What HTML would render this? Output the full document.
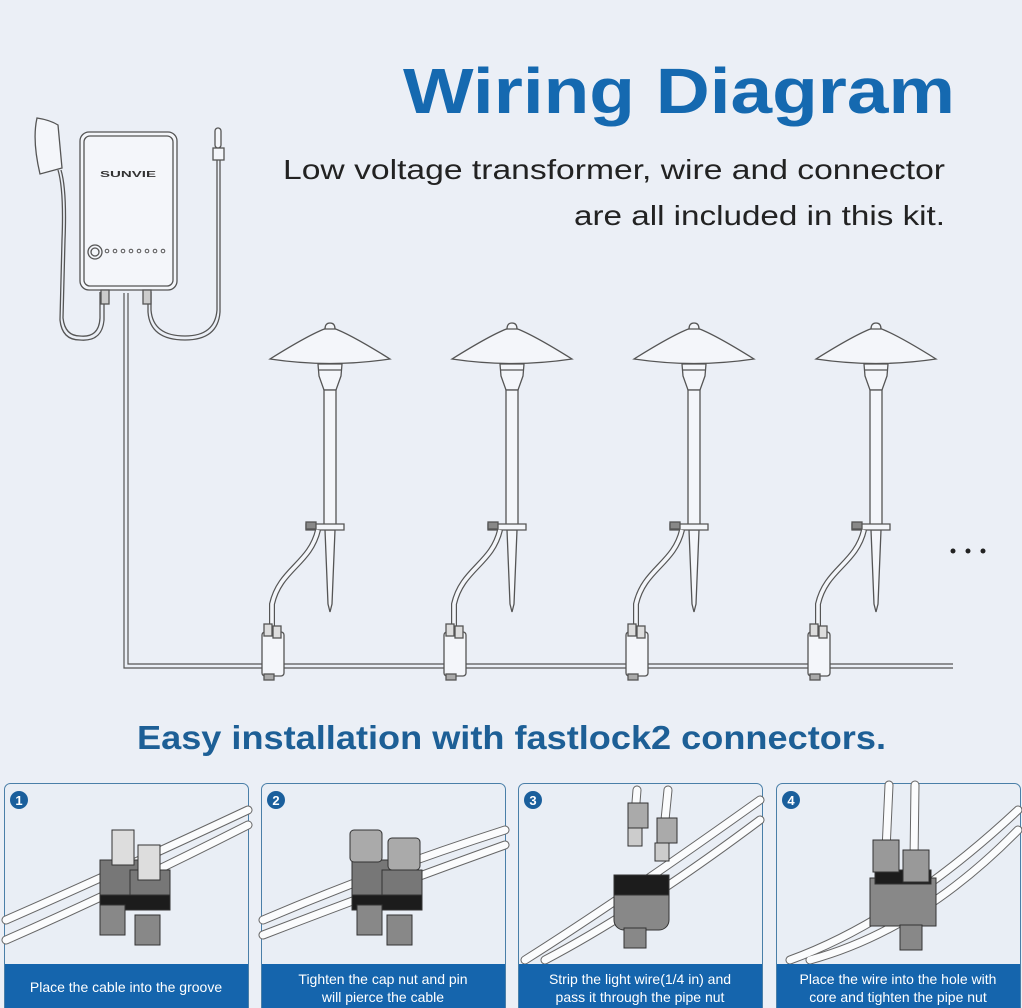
<!DOCTYPE html>
<html><head><meta charset="utf-8"><style>
html,body{margin:0;padding:0;background:#ebeff6;}
svg{display:block;}
text{font-family:"Liberation Sans",sans-serif;}
</style></head><body>
<svg width="1022" height="1008" viewBox="0 0 1022 1008" xmlns="http://www.w3.org/2000/svg">
<rect width="1022" height="1008" fill="#ebeff6"/>
<defs>
<g id="lamp" fill="#f4f6fa" stroke="#555" stroke-width="1.3">
  <path d="M-60,35 Q-20,10 -3,4 L3,4 Q20,10 60,35 Q0,44 -60,35 Z"/>
  <path d="M-5,5 Q-5,-1 0,-1 Q5,-1 5,5 Z"/>
  <path d="M-12,40 L12,40 L11,52 L6,66 L-6,66 L-11,52 Z"/>
  <line x1="-12" y1="46" x2="12" y2="46"/>
  <rect x="-6" y="66" width="12" height="135"/>
  <path d="M-5,206 L5,206 L2,280 L0,288 L-2,280 Z"/>
  <path d="M-24,200 L14,200 L14,206 L-24,206 Z"/>
  <rect x="-24" y="198" width="10" height="7" fill="#888"/>
  <path d="M-12,206 C-20,240 -50,245 -58,280 L-58,312" fill="none" stroke-width="6" stroke="#555"/>
  <path d="M-12,206 C-20,240 -50,245 -58,280 L-58,312" fill="none" stroke-width="3.6" stroke="#f4f6fa"/>
  <rect x="-68" y="308" width="22" height="44" rx="3"/>
  <rect x="-66" y="300" width="8" height="12" fill="#ddd"/>
  <rect x="-57" y="302" width="8" height="12" fill="#ddd"/>
  <rect x="-66" y="350" width="10" height="6" fill="#aaa"/>
</g>
</defs>

<text x="403" y="113" font-size="64" font-weight="bold" fill="#1569b0" textLength="552" lengthAdjust="spacingAndGlyphs">Wiring Diagram</text>
<text x="283" y="179" font-size="28" fill="#222" textLength="662" lengthAdjust="spacingAndGlyphs">Low voltage transformer, wire and connector</text>
<text x="574" y="225" font-size="28" fill="#222" textLength="371" lengthAdjust="spacingAndGlyphs">are all included in this kit.</text>

<g fill="none" stroke="#555" stroke-width="1.2">
  <path d="M124,293 L124,668 L953,668"/>
  <path d="M128,293 L128,664 L953,664"/>
</g>

<g fill="none" stroke="#555" stroke-width="1.3">
  <path d="M37,118 Q50,120 58,125 L62,168 L40,174 Q32,140 37,118 Z" fill="#f4f6fa"/>
  <path d="M58,170 Q64,190 62,240 L60,320 Q62,340 80,340 Q102,342 104,320 L104,292"/>
  <path d="M61,170 Q67,190 65,240 L63,318 Q65,336 80,336 Q99,338 100,318 L100,292"/>
  <path d="M148,292 L148,312 Q150,340 185,340 Q218,340 220,312 L220,158"/>
  <path d="M151,292 L151,310 Q153,336 185,336 Q215,336 217,310 L217,158"/>
  <rect x="213" y="148" width="11" height="12" fill="#f4f6fa"/>
  <rect x="215" y="128" width="6" height="20" rx="3" fill="#f4f6fa"/>
  <rect x="80" y="132" width="97" height="158" rx="9" fill="#f4f6fa"/>
  <rect x="84" y="136" width="89" height="150" rx="6"/>
  <rect x="101" y="290" width="8" height="14" fill="#ccc"/>
  <rect x="143" y="290" width="8" height="14" fill="#ccc"/>
  <circle cx="95" cy="252" r="7"/><circle cx="95" cy="252" r="4"/>
</g>
<text x="100" y="177" font-size="8" font-weight="bold" fill="#333" textLength="56" lengthAdjust="spacingAndGlyphs">SUNVIE</text>
<g fill="none" stroke="#555" stroke-width="1"><circle cx="107" cy="251" r="1.8"/><circle cx="115" cy="251" r="1.8"/><circle cx="123" cy="251" r="1.8"/><circle cx="131" cy="251" r="1.8"/><circle cx="139" cy="251" r="1.8"/><circle cx="147" cy="251" r="1.8"/><circle cx="155" cy="251" r="1.8"/><circle cx="163" cy="251" r="1.8"/></g>

<use href="#lamp" x="330" y="324"/>
<use href="#lamp" x="512" y="324"/>
<use href="#lamp" x="694" y="324"/>
<use href="#lamp" x="876" y="324"/>
<g fill="#222"><circle cx="953" cy="551" r="2.5"/><circle cx="968" cy="551" r="2.5"/><circle cx="983" cy="551" r="2.5"/></g>

<text x="137" y="749" font-size="33" font-weight="bold" fill="#1d5f96" textLength="749" lengthAdjust="spacingAndGlyphs">Easy installation with fastlock2 connectors.</text>

<g>
<rect x="4.5" y="783.5" width="244" height="230" rx="6" fill="#e9eef5" stroke="#4a7fa8"/>
<rect x="261.5" y="783.5" width="244" height="230" rx="6" fill="#e9eef5" stroke="#4a7fa8"/>
<rect x="518.5" y="783.5" width="244" height="230" rx="6" fill="#e9eef5" stroke="#4a7fa8"/>
<rect x="776.5" y="783.5" width="244" height="230" rx="6" fill="#e9eef5" stroke="#4a7fa8"/>
</g>

<g fill="none" stroke="#666" stroke-width="9" stroke-linecap="round">
  <path d="M6,920 Q120,870 248,810"/><path d="M6,940 Q120,890 248,825"/>
  <path d="M263,920 Q380,870 505,830"/><path d="M263,935 Q380,890 505,845"/>
  <path d="M525,960 Q620,900 760,800"/><path d="M545,960 Q640,910 760,820"/>
  <path d="M790,960 Q900,920 1018,810"/><path d="M810,960 Q920,930 1018,830"/>
  <path d="M637,790 L633,840"/><path d="M668,790 L662,850"/>
  <path d="M889,785 L886,850"/><path d="M915,785 L914,860"/>
</g>
<g fill="none" stroke="#fbfcfd" stroke-width="7" stroke-linecap="round">
  <path d="M6,920 Q120,870 248,810"/><path d="M6,940 Q120,890 248,825"/>
  <path d="M263,920 Q380,870 505,830"/><path d="M263,935 Q380,890 505,845"/>
  <path d="M525,960 Q620,900 760,800"/><path d="M545,960 Q640,910 760,820"/>
  <path d="M790,960 Q900,920 1018,810"/><path d="M810,960 Q920,930 1018,830"/>
  <path d="M637,790 L633,840"/><path d="M668,790 L662,850"/>
  <path d="M889,785 L886,850"/><path d="M915,785 L914,860"/>
</g>

<g stroke="#333" stroke-width="1">
  <rect x="100" y="860" width="40" height="40" fill="#777"/><rect x="130" y="870" width="40" height="40" fill="#777"/>
  <rect x="100" y="895" width="70" height="15" fill="#1c1c1c"/>
  <rect x="100" y="905" width="25" height="30" fill="#888"/><rect x="135" y="915" width="25" height="30" fill="#888"/>
  <rect x="112" y="830" width="22" height="35" fill="#ddd"/><rect x="138" y="845" width="22" height="35" fill="#ddd"/>
  <rect x="352" y="860" width="40" height="40" fill="#777"/><rect x="382" y="870" width="40" height="40" fill="#777"/>
  <rect x="352" y="895" width="70" height="15" fill="#1c1c1c"/>
  <rect x="357" y="905" width="25" height="30" fill="#888"/><rect x="387" y="915" width="25" height="30" fill="#888"/>
  <rect x="350" y="830" width="32" height="32" rx="4" fill="#aaa"/><rect x="388" y="838" width="32" height="32" rx="4" fill="#aaa"/>
  <rect x="614" y="880" width="55" height="50" rx="10" fill="#888"/>
  <rect x="614" y="875" width="55" height="20" fill="#1c1c1c"/>
  <rect x="624" y="928" width="22" height="20" fill="#888"/>
  <rect x="628" y="803" width="20" height="25" fill="#aaa"/><rect x="628" y="828" width="14" height="18" fill="#ccc"/>
  <rect x="657" y="818" width="20" height="25" fill="#aaa"/><rect x="655" y="843" width="14" height="18" fill="#ccc"/>
  <rect x="870" y="878" width="66" height="48" fill="#888"/>
  <rect x="875" y="870" width="56" height="14" fill="#1c1c1c"/>
  <rect x="873" y="840" width="26" height="32" fill="#999"/><rect x="903" y="850" width="26" height="32" fill="#999"/>
  <rect x="900" y="925" width="22" height="25" fill="#888"/>
</g>

<g fill="#1a5f9c">
  <circle cx="19" cy="800" r="9"/><circle cx="276" cy="800" r="9"/><circle cx="533" cy="800" r="9"/><circle cx="791" cy="800" r="9"/>
</g>
<g fill="#fff" font-size="13" font-weight="bold" text-anchor="middle">
  <text x="19" y="805">1</text><text x="276" y="805">2</text><text x="533" y="805">3</text><text x="791" y="805">4</text>
</g>

<g fill="#1565ad">
  <rect x="5" y="964" width="243" height="44"/>
  <rect x="262" y="964" width="243" height="44"/>
  <rect x="519" y="964" width="243" height="44"/>
  <rect x="777" y="964" width="243" height="44"/>
</g>
<g fill="#fff" font-size="14" text-anchor="middle">
  <text x="126" y="992">Place the cable into the groove</text>
  <text x="383" y="984">Tighten the cap nut and pin</text>
  <text x="383" y="1002">will pierce the cable</text>
  <text x="640" y="984">Strip the light wire(1/4 in) and</text>
  <text x="640" y="1002">pass it through the pipe nut</text>
  <text x="898" y="984">Place the wire into the hole with</text>
  <text x="898" y="1002">core and tighten the pipe nut</text>
</g>
</svg>
</body></html>
